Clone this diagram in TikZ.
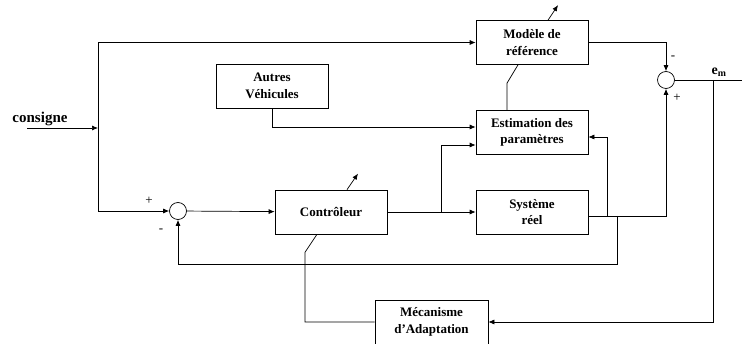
\documentclass[tikz,border=0pt]{standalone}
\usepackage{fontspec}
\setmainfont{Liberation Serif}
\usetikzlibrary{arrows.meta}

\begin{document}
\begin{tikzpicture}[x=1pt,y=-1pt,>={Latex[length=6pt,width=5pt]},line width=0.7pt,
  block/.style={draw,minimum width=112pt,minimum height=44pt,inner sep=0pt,align=center,
    font=\fontsize{13}{16.5}\selectfont\bfseries},
  sum/.style={circle,draw,minimum size=17pt,inner sep=0pt},
  sgn/.style={font=\fontsize{13}{13}\selectfont}]
   \useasboundingbox (0,0) rectangle (742,344);
   % blocs
   \node[block] (modele) at (532,42.5) {Modèle de\\référence};
   \node[block] (autres) at (272,86) {Autres\\Véhicules};
   \node[block] (estim) at (532,132.5) {Estimation des\\paramètres};
   \node[block] (ctrl) at (331,212) {Contrôleur};
   \node[block] (sys) at (532,212) {Système\\réel};
   \node[block,minimum width=113pt] (meca) at (431.5,322) {Mécanisme\\d'Adaptation};
   \node[sum] (s1) at (178,211) {};
   \node[sum] (s2) at (666,80) {};
   % textes
   \node[font=\fontsize{15}{15}\selectfont\bfseries] (cons) at (40,119) {consigne};
   \node[font=\fontsize{14}{14}\selectfont\bfseries] (em) at (719,72) {e\textsubscript{m}};
   \node[sgn] (p1) at (149,201) {+};
   \node[sgn] (m1) at (161,231) {-};
   \node[sgn] (m2) at (673,58) {-};
   \node[sgn] (p2) at (677,98) {+};
   % points
   \coordinate (cin) at (27,128);
   \coordinate (jin) at (98,128);
   \coordinate (jc) at (441,212);
   \coordinate (ja) at (607,216);
   \coordinate (jb) at (617,216);
   \coordinate (jm) at (713,80);
   \coordinate (out) at (742,80);
   % liaisons
   \draw[->] (cin) -- (jin);
   \draw[->] (jin) |- (modele.west);
   \draw[->] (jin) |- (s1.west);
   \draw[->] (s1) -- (ctrl);
   \draw[->] (ctrl) -- (sys);
   \draw[->] (jc) |- ([yshift=-12.5pt]estim.west);
   \draw[->] (autres.south) |- ([yshift=5.5pt]estim.west);
   \draw ([xshift=-25pt]estim.north) -- ++(0,-27) -- ([xshift=-14pt]modele.south);
   \draw[->] ([xshift=16pt]modele.north) -- ++(10,-15);
   \draw[->] ([xshift=16pt]ctrl.north) -- ++(11,-16);
   \draw[->] (modele.east) -| (s2.north);
   \draw[->] ([yshift=-4pt]sys.east) -| (s2.south);
   \draw[->] (ja) |- ([yshift=-4.5pt]estim.east);
   \draw[->] (jb) -- ++(0,48) -| (s1.south);
   \draw (s2.east) -- (out);
   \draw[->] (jm) |- (meca.east);
   \draw ([xshift=-14pt]ctrl.south) -- ++(-12,18) |- (meca.west);
\end{tikzpicture}
\end{document}
